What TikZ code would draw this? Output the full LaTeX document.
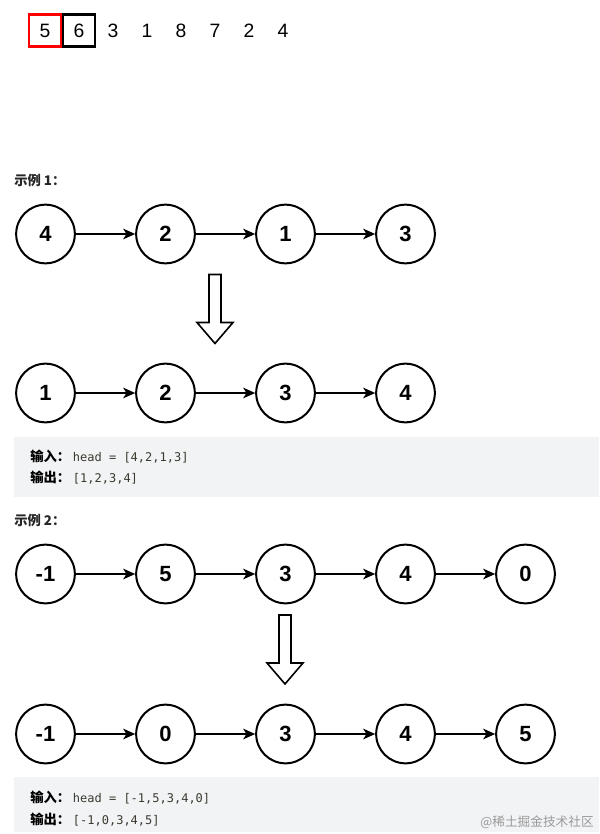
\documentclass[tikz,border=0pt]{standalone}
\usepackage{fontspec}
\setmainfont{Liberation Sans}
\setmonofont{DejaVu Sans Mono}
\newfontfamily\cjk{Noto Sans CJK SC}
\usepackage{tikz}
\usetikzlibrary{arrows.meta, positioning}
\usepackage{xcolor}
\definecolor{codebg}{HTML}{F2F3F5}
\definecolor{codefg}{HTML}{3A3A30}
\definecolor{markfg}{HTML}{9A9A9A}
\tikzstyle{listnode} = [circle, draw=black, line width=1.5pt, minimum size=44pt, inner sep=0pt, font=\fontsize{16.5}{18}\selectfont\bfseries]
\tikzstyle{arrow} = [line width=1.1pt, -{Stealth[length=9pt, width=8pt, inset=2.5pt]}]
\tikzstyle{bigarrow} = [draw=black, line width=1.2pt, fill=white]
\tikzstyle{numbox} = [rectangle, draw=black, line width=1.7pt, minimum size=24pt, inner sep=0pt, font=\fontsize{14.5}{17}\selectfont]
\tikzstyle{digit} = [inner sep=0pt, font=\fontsize{14.5}{17}\selectfont]
\tikzstyle{title} = [anchor=west, inner sep=0pt, text=black!85, font=\cjk\bfseries\fontsize{10}{12}\selectfont]
\tikzstyle{codeline} = [anchor=west, inner sep=0pt, text=codefg, font=\ttfamily\fontsize{9}{11}\selectfont]
\newcommand{\cjklabel}[1]{{\cjk\bfseries\fontsize{10}{12}\selectfont\color{black}#1}\hspace{2pt}}
\tikzset{downarrow/.pic={
  \draw[bigarrow] (-6,-34) -- (6,-34) -- (6,14) -- (18,14) -- (0,35) -- (-18,14) -- (-6,14) -- cycle;
}}

\begin{document}
\begin{tikzpicture}[x=0.75pt, y=-0.75pt, node distance=44.5pt]
  \fill[white] (0,0) rectangle (599,834);
  \useasboundingbox (0,0) rectangle (599,834);

  % top row of numbers
  \node[numbox, draw=red] (top1) at (45,30.5) {5};
  \node[numbox] (top2) at (79,30.5) {6};
  \node[digit] (top3) at (113,30.5) {3};
  \node[digit] (top4) at (147,30.5) {1};
  \node[digit] (top5) at (181,30.5) {8};
  \node[digit] (top6) at (215,30.5) {7};
  \node[digit] (top7) at (249,30.5) {2};
  \node[digit] (top8) at (283,30.5) {4};

  % example 1
  \node[title] (title1) at (14,180) {示例 1：};
  \node[listnode] (a1) at (45.5,234) {4};
  \node[listnode, right=of a1] (a2) {2};
  \node[listnode, right=of a2] (a3) {1};
  \node[listnode, right=of a3] (a4) {3};
  \draw[arrow] (a1) -- (a2);
  \draw[arrow] (a2) -- (a3);
  \draw[arrow] (a3) -- (a4);

  \pic at (215,308.5) {downarrow};

  \node[listnode] (b1) at (45.5,393) {1};
  \node[listnode, right=of b1] (b2) {2};
  \node[listnode, right=of b2] (b3) {3};
  \node[listnode, right=of b3] (b4) {4};
  \draw[arrow] (b1) -- (b2);
  \draw[arrow] (b2) -- (b3);
  \draw[arrow] (b3) -- (b4);

  \fill[codebg] (14,437) rectangle (599,497);
  \node[codeline] (in1) at (30,456.5) {\cjklabel{输入：}head = [4,2,1,3]};
  \node[codeline] (out1) at (30,478) {\cjklabel{输出：}[1,2,3,4]};

  % example 2
  \node[title] (title2) at (14,520) {示例 2：};
  \node[listnode] (c1) at (45.5,574) {-1};
  \node[listnode, right=of c1] (c2) {5};
  \node[listnode, right=of c2] (c3) {3};
  \node[listnode, right=of c3] (c4) {4};
  \node[listnode, right=of c4] (c5) {0};
  \draw[arrow] (c1) -- (c2);
  \draw[arrow] (c2) -- (c3);
  \draw[arrow] (c3) -- (c4);
  \draw[arrow] (c4) -- (c5);

  \pic at (285,649) {downarrow};

  \node[listnode] (d1) at (45.5,734) {-1};
  \node[listnode, right=of d1] (d2) {0};
  \node[listnode, right=of d2] (d3) {3};
  \node[listnode, right=of d3] (d4) {4};
  \node[listnode, right=of d4] (d5) {5};
  \draw[arrow] (d1) -- (d2);
  \draw[arrow] (d2) -- (d3);
  \draw[arrow] (d3) -- (d4);
  \draw[arrow] (d4) -- (d5);

  \fill[codebg] (14,777) rectangle (599,832);
  \node[codeline] (in2) at (30,797.5) {\cjklabel{输入：}head = [-1,5,3,4,0]};
  \node[codeline] (out2) at (30,819.5) {\cjklabel{输出：}[-1,0,3,4,5]};
  \node[anchor=east, inner sep=0pt, text=markfg, font=\cjk\fontsize{9.5}{11}\selectfont] (mark) at (594,822) {@稀土掘金技术社区};
\end{tikzpicture}
\end{document}
